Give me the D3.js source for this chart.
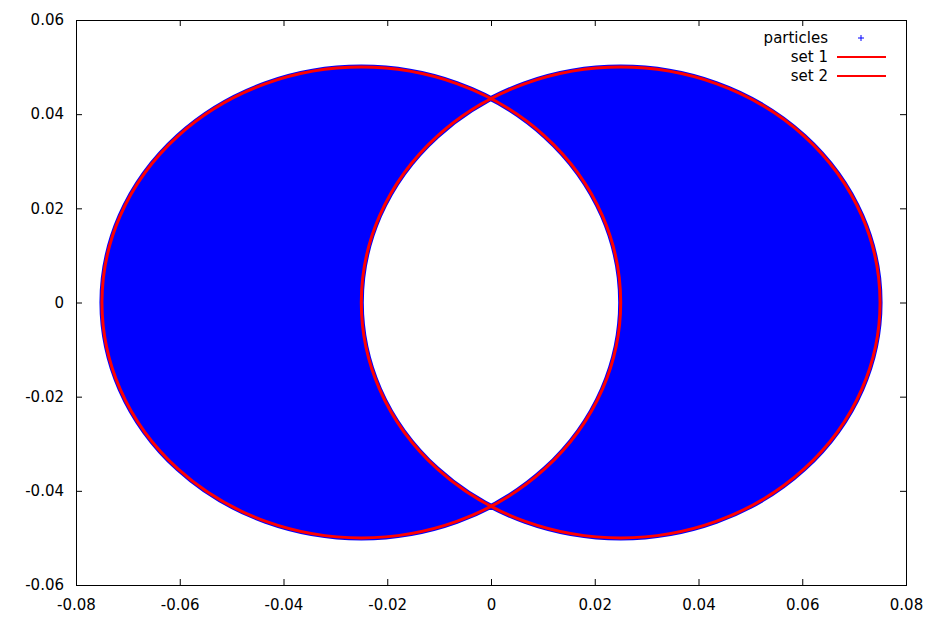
<!DOCTYPE html>
<html><head><meta charset="utf-8">
<script src="https://cdn.jsdelivr.net/npm/d3@7"></script>
<style>
body{margin:0;background:#fff;}
text{font-family:"DejaVu Sans",sans-serif;font-size:15px;fill:#000;}
</style></head>
<body><svg id="c" width="935" height="623"></svg>
<script>
// data
const xTicks = [-0.08,-0.06,-0.04,-0.02,0,0.02,0.04,0.06,0.08];
const yTicks = [-0.06,-0.04,-0.02,0,0.02,0.04,0.06];
const setNames = ["set 1","set 2"];
const setCenterX = [-0.025, 0.025];
const setCenterY = [0, 0];
const setRadius = [0.05, 0.05];
const legendNames = ["particles","set 1","set 2"];

const W=935,H=623;
const m={l:76,r:29,t:20,b:38};
const svg=d3.select("#c");
const x=d3.scaleLinear().domain([-0.08,0.08]).range([m.l,W-m.r]);
const y=d3.scaleLinear().domain([-0.06,0.06]).range([H-m.b,m.t]);
const fmt=d=>d===0?"0":String(+d.toFixed(2));

// particles region (XOR of the two sets)
function ellipsePath(i){
  const cx=x(setCenterX[i]),cy=y(setCenterY[i]);
  const rx=x(setCenterX[i]+setRadius[i])-cx, ry=cy-y(setCenterY[i]+setRadius[i]);
  return `M${cx+rx},${cy}A${rx},${ry} 0 1 0 ${cx-rx},${cy}A${rx},${ry} 0 1 0 ${cx+rx},${cy}Z`;
}
svg.append("path").attr("d",ellipsePath(0)+ellipsePath(1))
  .attr("fill","#0000ff").attr("fill-rule","evenodd")
  .attr("stroke","#0000ff").attr("stroke-width",5);

// set outlines
setNames.forEach((n,i)=>{
  svg.append("path").attr("d",ellipsePath(i)).attr("fill","none")
    .attr("stroke","#ff0000").attr("stroke-width",3);
});

// axes
const tl=6;
const g=svg.append("g");
const xb=d3.axisBottom(x).tickValues(xTicks).tickSize(-tl).tickPadding(14).tickFormat(fmt);
const xt=d3.axisTop(x).tickValues(xTicks).tickSize(-tl).tickFormat("");
const yl=d3.axisLeft(y).tickValues(yTicks).tickSize(-tl).tickPadding(12).tickFormat(fmt);
const yr=d3.axisRight(y).tickValues(yTicks).tickSize(-tl).tickFormat("");
[[xb,`translate(0,${H-m.b})`],[xt,`translate(0,${m.t})`],[yl,`translate(${m.l},0)`],[yr,`translate(${W-m.r},0)`]].forEach(([a,t])=>{
  const gg=g.append("g").attr("transform",t).call(a);
  gg.select(".domain").remove();
  gg.selectAll("line").attr("stroke","#000");
  gg.selectAll("text").attr("font-family","DejaVu Sans").attr("font-size",15).attr("fill","#000");
});
svg.append("rect").attr("x",m.l+0.5).attr("y",m.t+0.5).attr("width",W-m.r-m.l).attr("height",H-m.b-m.t)
  .attr("fill","none").attr("stroke","#000").attr("stroke-width",1);

// legend
const lg=svg.append("g");
legendNames.forEach((n,i)=>{
  const yy=38+i*19;
  lg.append("text").attr("x",828).attr("y",yy).attr("dy","0.35em").attr("text-anchor","end").text(n);
  if(i===0){
    lg.append("path").attr("d",`M${861-3},${yy}h6M861,${yy-3}v6`).attr("stroke","#0000ff").attr("stroke-width",1);
  } else {
    lg.append("line").attr("x1",837).attr("x2",886).attr("y1",yy).attr("y2",yy).attr("stroke","#ff0000").attr("stroke-width",2);
  }
});
</script></body></html>
